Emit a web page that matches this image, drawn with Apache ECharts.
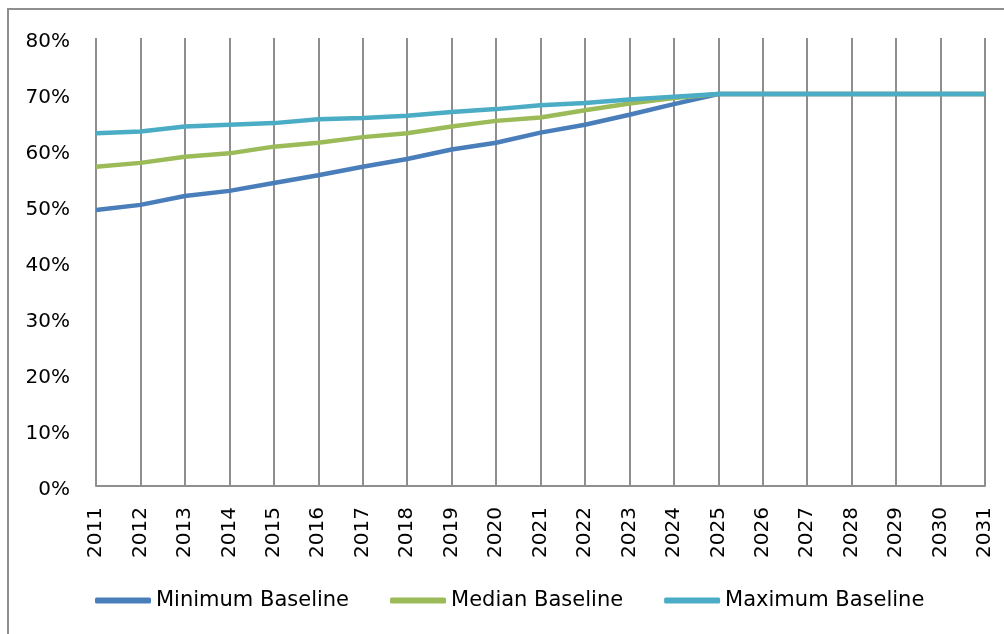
<!DOCTYPE html>
<html>
<head>
<meta charset="utf-8">
<script src="https://cdn.jsdelivr.net/npm/echarts@6/dist/echarts.min.js"></script>
<style>
  html, body { margin: 0; padding: 0; background: #fff; }
  #chart { width: 1004px; height: 634px; }
</style>
</head>
<body>
<div id="chart"></div>
<script>
// Years on the category axis
const years = ['2011','2012','2013','2014','2015','2016','2017','2018','2019','2020',
               '2021','2022','2023','2024','2025','2026','2027','2028','2029','2030','2031'];

// Baseline shares (fractions), one value per year
const minimumBaseline = [0.493,0.502,0.518,0.527,0.541,0.555,0.570,0.584,0.601,0.613,
                         0.631,0.645,0.663,0.682,0.70,0.70,0.70,0.70,0.70,0.70,0.70];
const medianBaseline  = [0.570,0.577,0.588,0.594,0.606,0.613,0.623,0.630,0.642,0.652,
                         0.658,0.671,0.683,0.693,0.70,0.70,0.70,0.70,0.70,0.70,0.70];
const maximumBaseline = [0.630,0.633,0.642,0.645,0.648,0.655,0.657,0.661,0.668,0.673,
                         0.680,0.684,0.690,0.695,0.70,0.70,0.70,0.70,0.70,0.70,0.70];

// Value-axis tick settings
const yMin = 0, yMax = 0.8, yStep = 0.1;

const seriesNames = ['Minimum Baseline', 'Median Baseline', 'Maximum Baseline'];
const seriesData = [minimumBaseline, medianBaseline, maximumBaseline];
const seriesColors = ['#4a7ebb', '#9bbb59', '#4bacc6'];

const font = '"DejaVu Sans", "Noto Sans", sans-serif';
const gray = '#8e8e8e';

const chart = echarts.init(document.getElementById('chart'), null, { renderer: 'canvas' });

chart.setOption({
  animation: false,
  backgroundColor: '#ffffff',
  graphic: [{
    type: 'rect',
    shape: { x: 8, y: 9, width: 1010, height: 640 },
    style: { fill: 'none', stroke: gray, lineWidth: 2 },
    silent: true
  }],
  grid: { left: 96, right: 19, top: 38, bottom: 148, containLabel: false },
  legend: {
    data: seriesNames,
    left: 90,
    top: 585,
    icon: 'roundRect',
    itemWidth: 56,
    itemHeight: 6,
    itemGap: 41,
    textStyle: { fontFamily: font, fontSize: 21, color: '#000', padding: [0, 0, 0, 0] }
  },
  xAxis: {
    type: 'category',
    data: years,
    boundaryGap: false,
    axisTick: { show: false },
    axisLine: { show: true, lineStyle: { color: gray, width: 2 } },
    splitLine: { show: true, lineStyle: { color: gray, width: 2 } },
    axisLabel: {
      rotate: 90,
      margin: 21,
      interval: 0,
      fontFamily: font,
      fontSize: 20,
      color: '#000'
    }
  },
  yAxis: {
    type: 'value',
    min: yMin,
    max: yMax,
    interval: yStep,
    axisLine: { show: false },
    axisTick: { show: false },
    splitLine: { show: false },
    axisLabel: {
      margin: 26,
      verticalAlign: 'top',
      lineHeight: 7,
      fontFamily: font,
      fontSize: 20,
      color: '#000',
      formatter: v => Math.round(v * 100) + '%'
    }
  },
  series: seriesNames.map((name, i) => ({
    name: name,
    type: 'line',
    data: seriesData[i],
    symbol: 'none',
    color: seriesColors[i],
    lineStyle: { width: 4.5, color: seriesColors[i] }
  }))
});
</script>
</body>
</html>
